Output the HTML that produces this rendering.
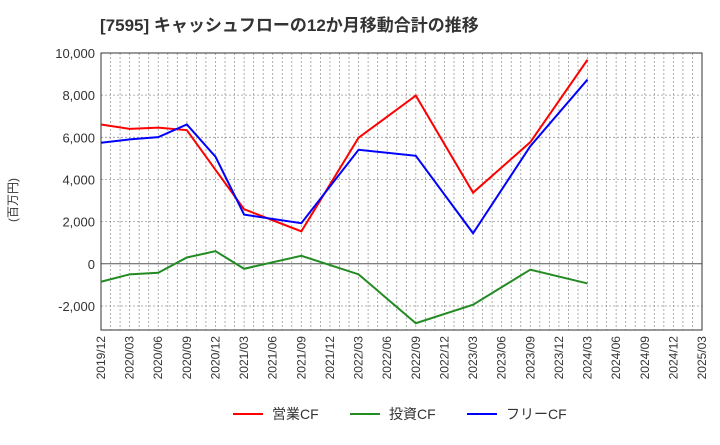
<!DOCTYPE html>
<html><head><meta charset="utf-8"><style>
body{margin:0;background:#fff;width:720px;height:440px;overflow:hidden;font-family:"Liberation Sans","Noto Sans CJK JP",sans-serif}
</style></head><body>
<svg id="chart" width="720" height="440" xmlns="http://www.w3.org/2000/svg" font-family="Liberation Sans, Noto Sans CJK JP, sans-serif">
<text x="100" y="31" font-size="17" font-weight="bold" fill="#333">[7595]  キャッシュフローの12か月移動合計の推移</text>
<text transform="translate(17,200) rotate(-90)" font-size="12" fill="#333" text-anchor="middle">(百万円)</text>
<g id="grid"></g><g id="axes"></g><g id="series"></g>
<g font-size="14" fill="#333">
<line x1="233" y1="414" x2="263" y2="414" stroke="#ff0000" stroke-width="2"/><text x="272" y="419">営業CF</text>
<line x1="350" y1="414" x2="380" y2="414" stroke="#228b22" stroke-width="2"/><text x="389" y="419">投資CF</text>
<line x1="467" y1="414" x2="497" y2="414" stroke="#0000ff" stroke-width="2"/><text x="506" y="419">フリーCF</text>
</g>
</svg>
<script>
const months=[0,3,6,9,12,15,21,27,33,39,45,51];
const operatingCF=[6610,6400,6460,6340,4460,2590,1540,5980,7980,3375,5770,9680];
const investingCF=[-850,-500,-425,300,600,-235,380,-500,-2820,-1940,-280,-930];
const freeCF=[5740,5900,6010,6610,5080,2335,1925,5410,5125,1450,5580,8740];
const xTickLabels=["2019/12","2020/03","2020/06","2020/09","2020/12","2021/03","2021/06","2021/09","2021/12","2022/03","2022/06","2022/09","2022/12","2023/03","2023/06","2023/09","2023/12","2024/03","2024/06","2024/09","2024/12","2025/03"];
const yTicks=[-2000,0,2000,4000,6000,8000,10000];
const L=101,R=702,T=53,B=330,yMin=-3140,yMax=10000,mMax=63;
const NS="http://www.w3.org/2000/svg";
const xs=m=>L+(R-L)*m/mMax;
const ys=v=>B-(B-T)*(v-yMin)/(yMax-yMin);
function mk(tag,attrs,parent){const e=document.createElementNS(NS,tag);for(const k in attrs)e.setAttribute(k,attrs[k]);document.getElementById(parent).appendChild(e);return e;}
for(let m=1;m<mMax;m++){const e=mk("line",{x1:xs(m),x2:xs(m),y1:T,y2:B,stroke:"#999","stroke-dasharray":"2,2","stroke-width":0.8},"grid");

}
yTicks.forEach(v=>{const e=mk("line",{x1:L,x2:R,y1:ys(v),y2:ys(v),stroke:v===0?"#555":"#999","stroke-dasharray":v===0?"":"2,2","stroke-width":v===0?1:0.8},"grid");


const t=mk("text",{x:L-6,y:ys(v)+5,"text-anchor":"end","font-size":13,fill:"#333"},"axes");t.textContent=v.toLocaleString("en-US");

});
xTickLabels.forEach((s,i)=>{const x=xs(i*3);const t=mk("text",{transform:`translate(${x+4},${B+6}) rotate(-90)`,"text-anchor":"end","font-size":12,fill:"#333"},"axes");t.textContent=s;

});
const fr=mk("rect",{x:L,y:T,width:R-L,height:B-T,fill:"none",stroke:"#333","stroke-width":1},"axes");


[[operatingCF,"#ff0000","operating-cf-line"],[investingCF,"#228b22","investing-cf-line"],[freeCF,"#0000ff","free-cf-line"]].forEach(([d,c,n])=>{
const p=mk("polyline",{points:d.map((v,i)=>xs(months[i])+","+ys(v)).join(" "),fill:"none",stroke:c,"stroke-width":2},"series");

});
</script>
</body></html>
